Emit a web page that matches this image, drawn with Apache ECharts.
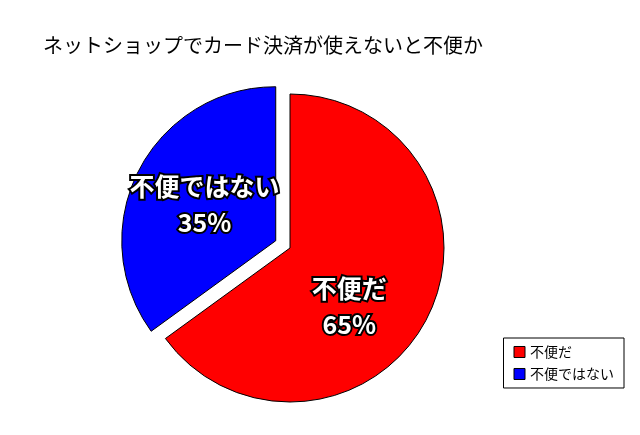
<!DOCTYPE html>
<html><head><meta charset="utf-8">
<script src="https://cdn.jsdelivr.net/npm/echarts@6/dist/echarts.min.js"></script>
<style>html,body{margin:0;padding:0;background:#fff}#c{width:640px;height:435px}</style>
</head><body><div id="c"></div>
<script>
const categories = ['不便だ', '不便ではない'];
const values = [65, 35];
const colors = ['#ff0000', '#0000ff'];
const labelOffsets = [[-12, 22], [-40, -8]];
const chart = echarts.init(document.getElementById('c'));
chart.setOption({
  animation: false,
  title: { text: 'ネットショップでカード決済が使えないと不便か', left: 38, top: 30,
    textStyle: { fontFamily: 'Noto Sans CJK JP', fontSize: 20, fontWeight: 'normal', color: '#000' } },
  legend: { orient: 'vertical', right: 16, top: 338, itemWidth: 11, itemHeight: 11, itemGap: 8, icon: 'rect',
    borderColor: '#000', borderWidth: 1, padding: [7, 10], borderRadius: 0,
    textStyle: { fontFamily: 'Noto Sans CJK JP', fontSize: 14, color: '#000' },
    data: categories.map((c, i) => ({ name: c, itemStyle: { color: colors[i], borderColor: '#000', borderWidth: 1 } })) },
  series: [{
    type: 'pie', center: [290, 248], radius: 154, startAngle: 90, clockwise: true,
    selectedMode: 'single', selectedOffset: 16,
    itemStyle: { borderColor: '#000', borderWidth: 1 },
    label: { position: 'inside', formatter: '{b}\n{d}%', fontFamily: 'Noto Sans CJK JP', fontSize: 25,
      fontWeight: 'bold', color: '#fff', textBorderColor: '#000', textBorderWidth: 4, lineHeight: 36, align: 'left' },
    labelLine: { show: false },
    data: categories.map((c, i) => ({ name: c, value: values[i], selected: i === 1,
      itemStyle: { color: colors[i] }, label: { offset: labelOffsets[i] } }))
  }]
});
</script></body></html>
